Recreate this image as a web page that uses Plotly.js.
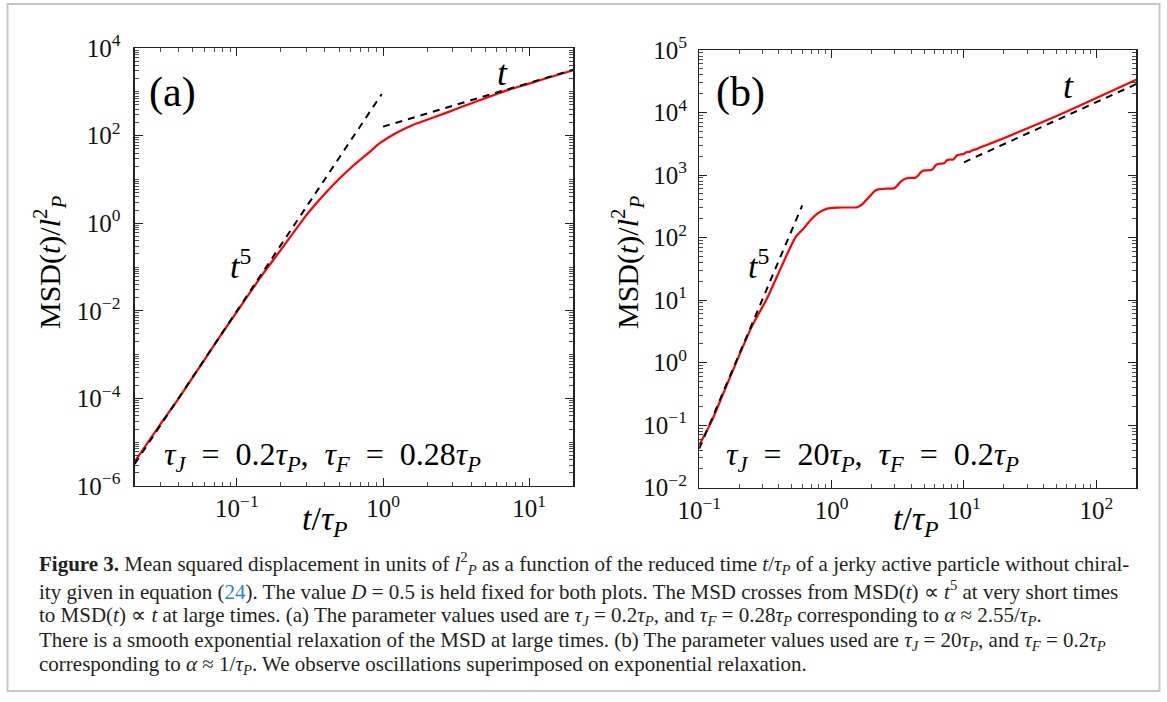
<!DOCTYPE html>
<html><head><meta charset="utf-8">
<script src="https://cdn.plot.ly/plotly-3.0.1.min.js"></script>
<style>html,body{margin:0;padding:0;background:#fff;} #chart{width:1167px;height:702px;}</style>
</head><body><div id="chart"></div>
<script>
// ---------- data ----------
// Panel (a): tau_J = 0.2 tau_P, tau_F = 0.28 tau_P
const tA   = [0.02, 0.03, 0.04, 0.06, 0.08, 0.1, 0.15, 0.2, 0.3, 0.4, 0.506, 0.63, 0.8, 0.95, 1.22, 1.6, 2.0, 2.7, 3.5, 4.57, 6, 7.3, 10, 14, 20];
const msdA = [3.6e-6, 2.6e-5, 1.0e-4, 7.6e-4, 3.2e-3, 9.5e-3, 0.068, 0.245, 1.55, 4.7, 10.6, 21, 41, 67, 113, 175, 230, 330, 460, 640, 890, 1120, 1540, 2170, 3100];
const t5A_t   = [0.02, 0.98];
const t5A_msd = [3.2e-6, 890];
const t1A_t   = [1, 20];
const t1A_msd = [160, 3200];

// Panel (b): tau_J = 20 tau_P, tau_F = 0.2 tau_P
const tB   = [0.1, 0.124, 0.15, 0.192, 0.25, 0.328, 0.42, 0.532, 0.615, 0.70, 0.80, 0.925, 1.1, 1.3, 1.56, 1.7, 1.93, 2.1, 2.25, 2.6, 2.95, 3.1, 3.3, 3.52, 3.7, 4.0, 4.31, 4.5, 4.7, 4.85, 5.1, 5.68, 5.9, 6.1, 6.3, 6.7, 7.07, 7.25, 7.5, 7.8, 8.32, 8.6, 8.93, 9.3, 9.7, 10.0, 10.3, 10.7, 11.1, 11.4, 11.8, 12.3, 12.7, 13.2, 15, 20, 32.2, 61, 100, 200];
const msdB = [0.048, 0.115, 0.3, 1.05, 3.8, 11, 35, 100, 140, 195, 250, 290, 302, 303, 306, 340, 450, 550, 590, 605, 612, 660, 770, 853, 890, 900, 906, 980, 1100, 1159, 1190, 1202, 1300, 1430, 1490, 1520, 1538, 1620, 1738, 1770, 1781, 1920, 2089, 2120, 2150, 2170, 2290, 2340, 2360, 2460, 2530, 2570, 2650, 2750, 3050, 3880, 5930, 10570, 17080, 33500];
const t5B_t   = [0.1, 0.6];
const t5B_msd = [0.042, 327];
const t1B_t   = [10, 200];
const t1B_msd = [1600, 28500];

// tick labels
const xTickValsA = [0.1, 1, 10];
const xTickTextA = ['10<sup>−1</sup>', '10<sup>0</sup>', '10<sup>1</sup>'];
const yTickValsA = [1e-6, 1e-4, 1e-2, 1, 1e2, 1e4];
const yTickTextA = ['10<sup>−6</sup>', '10<sup>−4</sup>', '10<sup>−2</sup>', '10<sup>0</sup>', '10<sup>2</sup>', '10<sup>4</sup>'];
const xTickValsB = [0.1, 1, 10, 100];
const xTickTextB = ['10<sup>−1</sup>', '10<sup>0</sup>', '10<sup>1</sup>', '10<sup>2</sup>'];
const yTickValsB = [1e-2, 1e-1, 1, 1e1, 1e2, 1e3, 1e4, 1e5];
const yTickTextB = ['10<sup>−2</sup>', '10<sup>−1</sup>', '10<sup>0</sup>', '10<sup>1</sup>', '10<sup>2</sup>', '10<sup>3</sup>', '10<sup>4</sup>', '10<sup>5</sup>'];

// text
const panelLabels = ['(a)', '(b)'];
const SP = '&nbsp;&nbsp;';
const paramA = '<i>τ</i><sub><i>J</i></sub>' + SP + '=' + SP + '0.2<i>τ</i><sub><i>P</i></sub>,&nbsp;&nbsp;<i>τ</i><sub><i>F</i></sub>' + SP + '=' + SP + '0.28<i>τ</i><sub><i>P</i></sub>';
const paramB = '<i>τ</i><sub><i>J</i></sub>' + SP + '=' + SP + '20<i>τ</i><sub><i>P</i></sub>,&nbsp;&nbsp;<i>τ</i><sub><i>F</i></sub>' + SP + '=' + SP + '0.2<i>τ</i><sub><i>P</i></sub>';
const yTitle = 'MSD(<i>t</i>)/<i>l</i><sup>2</sup><sub><i>P</i></sub>';
const xTitle = '<i>t</i>/<i>τ</i><sub><i>P</i></sub>';
const captionLines = [
 '<b>Figure 3.</b> Mean squared displacement in units of <i>l</i><sup>2</sup><sub><i>P</i></sub> as a function of the reduced time <i>t</i>/<i>τ</i><sub><i>P</i></sub> of a jerky active particle without chiral-',
 'ity given in equation (<span style="color:#2a86c2">24</span>). The value <i>D</i> = 0.5 is held fixed for both plots. The MSD crosses from MSD(<i>t</i>) ∝ <i>t</i><sup>5</sup> at very short times',
 'to MSD(<i>t</i>) ∝ <i>t</i> at large times. (a) The parameter values used are <i>τ</i><sub><i>J</i></sub> = 0.2<i>τ</i><sub><i>P</i></sub>, and <i>τ</i><sub><i>F</i></sub> = 0.28<i>τ</i><sub><i>P</i></sub> corresponding to <i>α</i> ≈ 2.55/<i>τ</i><sub><i>P</i></sub>.',
 'There is a smooth exponential relaxation of the MSD at large times. (b) The parameter values used are <i>τ</i><sub><i>J</i></sub> = 20<i>τ</i><sub><i>P</i></sub>, and <i>τ</i><sub><i>F</i></sub> = 0.2<i>τ</i><sub><i>P</i></sub>',
 'corresponding to <i>α</i> ≈ 1/<i>τ</i><sub><i>P</i></sub>. We observe oscillations superimposed on exponential relaxation.'
];

// ---------- layout helpers ----------
const W = 1167, H = 702;
const px = x => x / W, py = y => 1 - y / H;
const SERIF = "Liberation Serif, Times New Roman, serif";
const AX = '#222';

function axisBase(extra) {
  return Object.assign({
    type: 'log', showline: true, linecolor: AX, linewidth: 1.3, mirror: 'allticks',
    ticks: 'inside', ticklen: 8, tickwidth: 1, tickcolor: AX,
    showgrid: false, zeroline: false, tickmode: 'array',
    tickfont: {family: SERIF, size: 25, color: '#111'},
    minor: {ticks: 'inside', ticklen: 4, tickwidth: 0.8, tickcolor: AX, dtick: 'D1', showgrid: false}
  }, extra);
}

const red = {color: '#ff0000', width: 2.2};
const redSmooth = Object.assign({shape: 'spline', smoothing: 0.6}, red);
const dash = {color: '#000', width: 2, dash: '7px,6px'};

const traces = [
  {x: tA, y: msdA, xaxis: 'x', yaxis: 'y', mode: 'lines', line: redSmooth},
  {x: t5A_t, y: t5A_msd, xaxis: 'x', yaxis: 'y', mode: 'lines', line: dash},
  {x: t1A_t, y: t1A_msd, xaxis: 'x', yaxis: 'y', mode: 'lines', line: dash},
  {x: tB, y: msdB, xaxis: 'x2', yaxis: 'y2', mode: 'lines', line: redSmooth},
  {x: t5B_t, y: t5B_msd, xaxis: 'x2', yaxis: 'y2', mode: 'lines', line: dash},
  {x: t1B_t, y: t1B_msd, xaxis: 'x2', yaxis: 'y2', mode: 'lines', line: dash},
];

function ann(text, x, y, size, extra) {
  return Object.assign({text: text, x: px(x), y: py(y), xref: 'paper', yref: 'paper',
    showarrow: false, xanchor: 'center', yanchor: 'middle',
    font: {family: SERIF, size: size, color: '#000'}}, extra || {});
}

const annotations = [
  ann(panelLabels[0], 172, 92, 42),
  ann(panelLabels[1], 740, 92, 42),
  ann('<i>t</i>', 502, 73, 36),
  ann('<i>t</i>', 1068, 86, 36),
  ann('<i>t</i><sup>5</sup>', 240, 264, 34),
  ann('<i>t</i><sup>5</sup>', 758, 264, 34),
  ann(paramA, 322, 456, 32),
  ann(paramB, 872, 456, 32),
  ann(yTitle, 50, 262, 30, {textangle: -90}),
  ann(yTitle, 628, 262, 30, {textangle: -90}),
  ann(xTitle, 325, 521, 34),
  ann(xTitle, 916, 521, 34),
];
const capY = [563, 590, 616, 641, 665];
captionLines.forEach((t, i) => annotations.push(
  ann(t, 37, capY[i], 21, {xanchor: 'left', font: {family: SERIF, size: 21, color: '#231f20'}})));

const layout = {
  width: W, height: H, margin: {l: 0, r: 0, t: 0, b: 0},
  paper_bgcolor: '#fff', plot_bgcolor: 'rgba(0,0,0,0)', showlegend: false,
  xaxis: axisBase({domain: [px(134.7), px(573.2)], range: [Math.log10(0.02), Math.log10(20)], tickvals: xTickValsA, ticktext: xTickTextA, anchor: 'y', ticklabelstandoff: 0}),
  yaxis: axisBase({domain: [py(486), py(48)], range: [-6, 4], tickvals: yTickValsA, ticktext: yTickTextA, anchor: 'x', ticklabelstandoff: 8}),
  xaxis2: axisBase({domain: [px(699.2), px(1136.2)], range: [-1, Math.log10(200)], tickvals: xTickValsB, ticktext: xTickTextB, anchor: 'y2', ticklabelstandoff: 0}),
  yaxis2: axisBase({domain: [py(487.7), py(50)], range: [-2, 5], tickvals: yTickValsB, ticktext: yTickTextB, anchor: 'x2', ticklabelstandoff: 6}),
  annotations: annotations,
  shapes: [{type: 'rect', xref: 'paper', yref: 'paper', x0: px(7.5), x1: px(1159.5), y0: py(691), y1: py(4),
            line: {color: '#c8c8c8', width: 2}, fillcolor: 'rgba(0,0,0,0)'}]
};

Plotly.newPlot('chart', traces, layout, {staticPlot: true, displayModeBar: false});
</script>
</body></html>
